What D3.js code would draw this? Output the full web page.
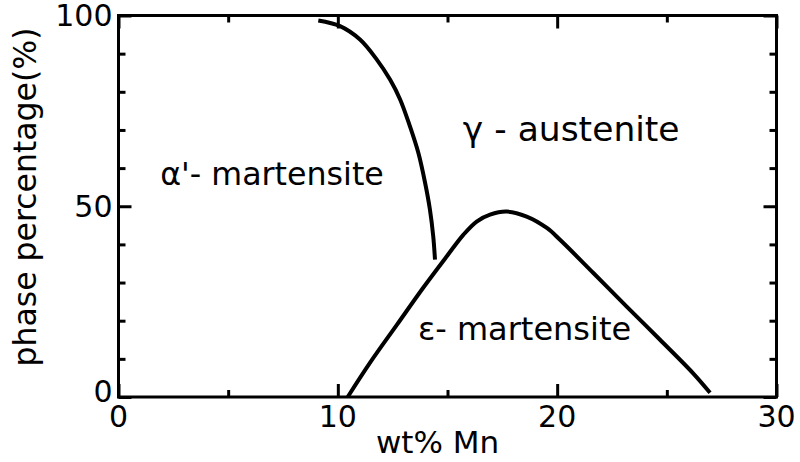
<!DOCTYPE html>
<html>
<head>
<meta charset="utf-8">
<script src="https://cdn.jsdelivr.net/npm/d3@7/dist/d3.min.js"></script>
<style>
  html, body { margin: 0; padding: 0; background: #fff; }
  svg { display: block; }
  text { font-family: "DejaVu Sans", sans-serif; fill: #000; }
</style>
</head>
<body>
<svg id="chart" width="800" height="462"></svg>
<script>
// Phase fraction vs Mn content
const alphaMn  = [9.11, 10.10, 11.01, 11.77, 12.38, 12.84, 13.29, 13.67, 13.98, 14.20, 14.35, 14.43];
const alphaPct = [98.7, 97.2, 93.7, 88.5, 83.2, 78.0, 70.9, 64.0, 56.1, 49.1, 42.1, 36.0];

const epsMn  = [10.45, 11.47, 12.69, 13.9, 14.97, 15.72, 16.33, 16.94, 17.70, 18.61, 19.53, 20.13, 21.65, 23.17, 24.69, 26.2, 26.97];
const epsPct = [0.0, 9.0, 18.9, 28.7, 36.9, 42.5, 46.0, 47.8, 48.6, 47.3, 44.3, 41.2, 32.5, 23.7, 15.0, 6.2, 1.1];

const xMajorTicks = [0, 10, 20, 30];
const xMinorTicks = [5, 15, 25];
const yMajorTicks = [0, 50, 100];
const yMinorTicks = [10, 20, 30, 40, 60, 70, 80, 90];

const phaseLabels = [
  { text: "α'- martensite", mn: 1.9,  pct: 55.5, size: 31.7 },
  { text: "γ - austenite",  mn: 15.7, pct: 67.2, size: 34.5 },
  { text: "ε- martensite",  mn: 13.65, pct: 15.0, size: 32 }
];

const xTitle = "wt% Mn";
const yTitle = "phase percentage(%)";

const svg = d3.select("#chart");
const plotLeft = 118.5, plotRight = 776.5, plotTop = 15.5, plotBottom = 397;

const x = d3.scaleLinear().domain([0, 30]).range([plotLeft, plotRight]);
const y = d3.scaleLinear().domain([0, 100]).range([plotBottom, plotTop]);

const majorLen = 13, minorLen = 7;
const fontSize = 30;

// inward ticks on all four sides
function tickAxes(g, axisFn, scale, vals, len) {
  g.call(axisFn(scale).tickValues(vals).tickSize(len).tickFormat(""))
   .call(s => s.select(".domain").remove())
   .call(s => s.selectAll(".tick line").attr("stroke", "#000").attr("stroke-width", 3));
}

const gB = svg.append("g").attr("transform", `translate(0,${plotBottom})`);
tickAxes(gB.append("g"), d3.axisTop, x, xMajorTicks, majorLen);
tickAxes(gB.append("g"), d3.axisTop, x, xMinorTicks, minorLen);

const gT = svg.append("g").attr("transform", `translate(0,${plotTop})`);
tickAxes(gT.append("g"), d3.axisBottom, x, xMajorTicks, majorLen);
tickAxes(gT.append("g"), d3.axisBottom, x, xMinorTicks, minorLen);

const gL = svg.append("g").attr("transform", `translate(${plotLeft},0)`);
tickAxes(gL.append("g"), d3.axisRight, y, yMajorTicks, majorLen);
tickAxes(gL.append("g"), d3.axisRight, y, yMinorTicks, minorLen);

const gR = svg.append("g").attr("transform", `translate(${plotRight},0)`);
tickAxes(gR.append("g"), d3.axisLeft, y, yMajorTicks, majorLen);
tickAxes(gR.append("g"), d3.axisLeft, y, yMinorTicks, minorLen);

// frame
svg.append("rect")
  .attr("x", plotLeft).attr("y", plotTop)
  .attr("width", plotRight - plotLeft).attr("height", plotBottom - plotTop)
  .attr("fill", "none").attr("stroke", "#000").attr("stroke-width", 3);

// tick labels
svg.append("g").selectAll("text").data(xMajorTicks).join("text")
  .attr("x", d => x(d)).attr("y", plotBottom + 30)
  .attr("text-anchor", "middle").attr("font-size", fontSize)
  .text(d => d);

// y labels centred on their ticks, but the lowest one kept clear of the x labels
svg.append("g").selectAll("text").data(yMajorTicks).join("text")
  .attr("x", plotLeft - 6)
  .attr("y", d => Math.min(y(d) + 0.36 * fontSize, plotBottom + 5))
  .attr("text-anchor", "end").attr("font-size", fontSize)
  .text(d => d);

// axis titles
svg.append("text")
  .attr("x", 437.5).attr("y", 453)
  .attr("text-anchor", "middle").attr("font-size", 31)
  .text(xTitle);

svg.append("text")
  .attr("transform", `translate(36,197)rotate(-90)`)
  .attr("text-anchor", "middle").attr("font-size", 31.5)
  .text(yTitle);

// phase boundaries
const line = d3.line()
  .x(d => x(d[0])).y(d => y(d[1]))
  .curve(d3.curveCatmullRom.alpha(0.5));

svg.append("path")
  .datum(d3.zip(alphaMn, alphaPct))
  .attr("d", line)
  .attr("fill", "none").attr("stroke", "#000").attr("stroke-width", 4);

svg.append("path")
  .datum(d3.zip(epsMn, epsPct))
  .attr("d", line)
  .attr("fill", "none").attr("stroke", "#000").attr("stroke-width", 4);

// phase region labels
svg.append("g").selectAll("text").data(phaseLabels).join("text")
  .attr("x", d => x(d.mn)).attr("y", d => y(d.pct))
  .attr("font-size", d => d.size)
  .text(d => d.text);
</script>
</body>
</html>
